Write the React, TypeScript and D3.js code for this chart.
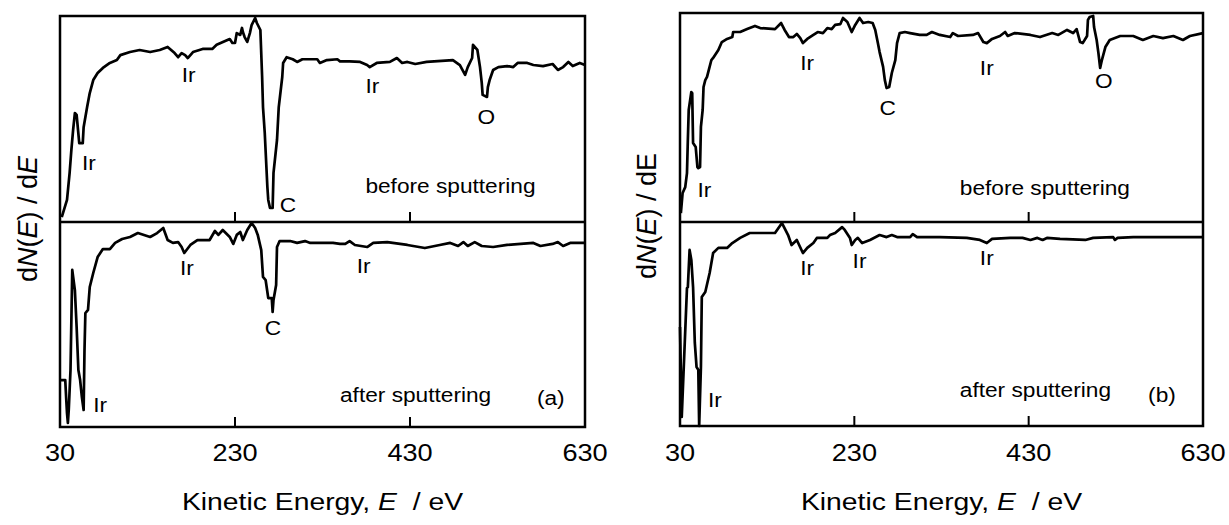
import React from "react";
import * as d3 from "d3";

// ---- axis ----
const energyTicks = [30, 230, 430, 630];
const energyDomain: [number, number] = [30, 630];

// ---- panel (a): [kinetic energy eV, dN/dE arb. units 0-100] ----
const aBefore: [number, number][] = [
  [32, 2.4], [38, 10.7], [41, 23.8], [43, 35], [45, 44.7], [47, 52.9], [49, 52], [52, 38.3], [56, 38.3],
  [57, 46], [61, 55.8], [64, 62.6], [68, 68.9], [73, 72.3], [79, 74.8], [87, 77.2], [95, 78.6], [99, 81],
  [110, 82.5], [121, 83.5], [133, 82.5], [144, 83.5], [153, 85], [161, 82], [165, 80], [169, 82], [173, 81],
  [176, 79.6], [182, 82.5], [193, 84], [204, 84], [209, 86], [224, 88.8], [227, 86.9], [230, 86.9],
  [232, 91.7], [236, 90.8], [238, 94.2], [239, 92.2], [241, 89.8], [244, 87.4], [247, 91.7], [249, 95.6],
  [253, 99], [255, 96.6], [259, 93.2], [261, 70.4], [262, 55.8], [264, 43.2], [267, 17], [268, 10.7],
  [270, 6.8], [273, 6.8], [274, 23.8], [278, 39.8], [280, 55.8], [284, 70.4], [285, 77.2], [289, 80],
  [296, 79], [301, 77.7], [307, 79], [324, 79], [327, 77.2], [335, 78.6], [347, 79], [350, 78], [361, 78],
  [373, 77.7], [381, 76.2], [384, 75.2], [392, 77.2], [407, 77.7], [415, 79.6], [421, 77.2], [427, 77.7],
  [436, 76.7], [449, 77.7], [479, 78.6], [487, 76.2], [493, 71.4], [496, 75.2], [501, 79.6], [502, 86],
  [507, 83.5], [510, 75.2], [512, 67.5], [513, 61.7], [518, 60.7], [519, 65.5], [521, 68.9], [525, 73.8],
  [531, 75.2], [541, 75.7], [548, 75.2], [553, 77.2], [564, 77.2], [571, 76.2], [582, 75.7], [593, 76.7],
  [599, 73.8], [605, 75.2], [611, 77.7], [616, 75.7], [624, 77.2], [630, 76.2],
];

const aAfter: [number, number][] = [
  [31, 22.9], [36, 22.9], [37, 14.6], [38, 6.8], [39, 2], [40, 8.3], [42, 27.8], [44, 76.6], [47, 66.8],
  [49, 48.8], [51, 27.8], [53, 22.9], [55, 14.6], [57, 8.3], [58, 37.6], [59, 55.6], [62, 57.1], [64, 68.3],
  [68, 75.1], [73, 82.9], [79, 86.8], [87, 86.8], [93, 89.8], [101, 91.7], [110, 92.7], [119, 94.6],
  [133, 92.7], [141, 94.6], [148, 97.1], [153, 91.2], [159, 89.8], [165, 90.2], [169, 87.8], [172, 84.9],
  [179, 88.8], [187, 91.2], [201, 91.2], [207, 95.6], [211, 93.7], [216, 96.1], [224, 92.7], [228, 89.3],
  [232, 93.7], [236, 95.1], [239, 91.2], [244, 96.1], [249, 99.5], [253, 97.1], [256, 93.7], [260, 86.3],
  [262, 73.2], [265, 71.7], [268, 62.9], [272, 62.9], [273, 56.1], [274, 62], [277, 69.3], [278, 87.8],
  [281, 90.7], [293, 90.7], [301, 89.8], [310, 90.7], [316, 89.8], [335, 89.8], [342, 89.8], [350, 89.3],
  [356, 89.3], [361, 90.7], [367, 88.8], [381, 87.8], [388, 89.8], [404, 90.2], [427, 88.8], [447, 87.3],
  [464, 88.8], [476, 89.8], [485, 88.3], [491, 90.2], [496, 88.3], [504, 90.2], [512, 88.3], [525, 87.8],
  [541, 88.8], [571, 89.8], [579, 88.3], [593, 89.3], [599, 90.2], [605, 88.3], [613, 89.8], [630, 89.8],
];

// ---- panel (b) ----
const bBefore: [number, number][] = [
  [31, 4.3], [33, 13.9], [36, 16.7], [38, 23.4], [39, 39.2], [40, 53.6], [43, 62.2], [44, 61.7], [45, 37.8],
  [48, 35.9], [50, 26.3], [51, 25.8], [53, 26.3], [54, 45.5], [56, 53.6], [57, 64.6], [59, 67.9], [61, 69.4],
  [63, 72.7], [66, 77.5], [68, 78.5], [74, 82.3], [78, 86.1], [84, 87.6], [90, 88.5], [91, 90.9], [99, 90.9],
  [107, 92.3], [116, 93.8], [122, 92.8], [139, 92.3], [146, 95.2], [150, 91.9], [155, 88.5], [160, 88.5],
  [164, 90], [168, 88], [171, 85.6], [176, 87.6], [183, 89.5], [188, 90.9], [194, 90.4], [199, 92.8],
  [204, 92.3], [208, 94.3], [214, 94.7], [217, 97.6], [222, 95.7], [227, 90.9], [231, 94.3], [236, 97.6],
  [240, 95.2], [246, 95.7], [251, 95.2], [254, 91.9], [257, 85.6], [259, 81.3], [263, 74.2], [265, 67.9],
  [267, 64.1], [270, 64.6], [273, 71.3], [277, 77.5], [279, 85.6], [282, 90.4], [288, 90.9], [294, 90.4],
  [305, 89.5], [313, 89.5], [319, 90.9], [328, 89.5], [340, 88.5], [343, 90.4], [349, 89], [366, 89.5],
  [372, 90.4], [378, 86.1], [382, 85.6], [388, 87.6], [397, 89], [403, 90.9], [406, 89], [414, 90.4],
  [432, 89.5], [443, 88.5], [457, 90.4], [464, 89.5], [474, 91.9], [481, 90.4], [485, 92.3], [489, 86.1],
  [492, 85.6], [497, 89], [498, 96.7], [500, 98.1], [504, 98.6], [505, 93.3], [508, 87.1], [510, 80.9],
  [512, 73.7], [514, 77.5], [518, 83.7], [523, 87.1], [535, 89], [550, 89], [561, 87.1], [573, 89],
  [584, 88], [596, 89], [607, 87.1], [615, 89], [630, 90.4],
];

const bAfter: [number, number][] = [
  [30, 48.5], [32, 4.4], [38, 67.6], [39, 68.1], [41, 86.3], [43, 81.4], [45, 68.1], [47, 40.7], [49, 28.9],
  [51, 27.5], [52, 0], [54, 28.9], [55, 63.2], [59, 65.7], [64, 75], [68, 84.8], [74, 87.3], [84, 87.3],
  [90, 89.7], [99, 92.2], [110, 94.6], [122, 94.6], [139, 94.6], [147, 99.5], [154, 93.6], [158, 88.7],
  [164, 91.2], [171, 84.8], [176, 87.3], [183, 89.7], [187, 92.2], [199, 92.2], [202, 93.6], [208, 94.6],
  [216, 97.5], [219, 96.1], [225, 92.2], [227, 88.7], [231, 91.2], [234, 92.2], [239, 89.7], [248, 91.2],
  [259, 93.6], [267, 92.6], [273, 93.6], [279, 92.6], [294, 92.6], [297, 94.1], [302, 92.6], [328, 92.6],
  [359, 92.2], [374, 91.2], [382, 89.7], [388, 91.7], [409, 92.2], [423, 92.2], [432, 91.2], [440, 92.2],
  [446, 91.2], [451, 92.2], [466, 91.7], [495, 91.2], [504, 92.2], [527, 92.6], [529, 91.2], [532, 92.2],
  [550, 92.6], [630, 92.6],
];

// ---- annotations: [label, energy, value] (left/baseline of text) ----
type Ann = [string, number, number];
const aBeforeLabels: Ann[] = [["Ir", 55, 25.2], ["Ir", 169, 68], ["C", 281, 4.9], ["Ir", 379, 62.6], ["O", 507, 47.6], ["before sputtering", 379, 14.1]];
const aAfterLabels: Ann[] = [["Ir", 68, 7.3], ["Ir", 167, 74.1], ["C", 264, 44.9], ["Ir", 369, 75.1], ["after sputtering", 350, 12.2], ["(a)", 575, 10.7]];
const bBeforeLabels: Ann[] = [["Ir", 50, 12], ["Ir", 168, 72.7], ["C", 259, 51.2], ["Ir", 374, 70.3], ["O", 506, 64.1], ["before sputtering", 351, 12.9]];
const bAfterLabels: Ann[] = [["Ir", 62, 9.3], ["Ir", 168, 74], ["Ir", 228, 77.5], ["Ir", 374, 78.9], ["after sputtering", 351, 14.2], ["(b)", 567, 11.8]];

const FONT = "'Liberation Sans', Arial, Helvetica, sans-serif";
const SX = 1.18;
const SX_IN = 1.08;

type PanelProps = {
  x0: number; x1: number; top: number; mid: number; bottom: number;
  before: [number, number][]; after: [number, number][];
  beforeLabels: Ann[]; afterLabels: Ann[];
  ylx: number; yly: number; lastItalic: boolean;
};

function Panel(p: PanelProps) {
  const x = d3.scaleLinear().domain(energyDomain).range([p.x0, p.x1]);
  const yTop = d3.scaleLinear().domain([0, 100]).range([p.mid, p.top]);
  const yBot = d3.scaleLinear().domain([0, 100]).range([p.bottom, p.mid]);
  const lineTop = d3.line<[number, number]>().x(d => x(d[0])).y(d => yTop(d[1]));
  const lineBot = d3.line<[number, number]>().x(d => x(d[0])).y(d => yBot(d[1]));
  const cx = (p.x0 + p.x1) / 2;
  const label = (a: Ann, y: d3.ScaleLinear<number, number>, i: number) => (
    <text key={i} transform={`translate(${x(a[1])},${y(a[2])}) scale(${SX_IN},1)`} fontSize={21} fontFamily={FONT}>{a[0]}</text>
  );
  return (
    <g>
      <path d={lineTop(p.before) || ""} fill="none" stroke="#000" strokeWidth={2.7} strokeLinejoin="round" />
      <path d={lineBot(p.after) || ""} fill="none" stroke="#000" strokeWidth={2.7} strokeLinejoin="round" />
      <rect x={p.x0} y={p.top} width={p.x1 - p.x0} height={p.bottom - p.top} fill="none" stroke="#000" strokeWidth={2.5} />
      <line x1={p.x0} x2={p.x1} y1={p.mid} y2={p.mid} stroke="#000" strokeWidth={2.5} />
      {energyTicks.slice(1, -1).map(t => (
        <g key={t}>
          <line x1={x(t)} x2={x(t)} y1={p.mid} y2={p.mid - 10} stroke="#000" strokeWidth={2} />
          <line x1={x(t)} x2={x(t)} y1={p.bottom} y2={p.bottom - 10} stroke="#000" strokeWidth={2} />
        </g>
      ))}
      {energyTicks.map(t => (
        <text key={t} transform={`translate(${x(t)},461) scale(${SX},1)`} textAnchor="middle" fontSize={23} fontFamily={FONT}>{t}</text>
      ))}
      <text transform={`translate(${cx},510) scale(${SX},1)`} textAnchor="middle" fontSize={24} fontFamily={FONT} style={{ whiteSpace: "pre" }}>
        Kinetic Energy, <tspan fontStyle="italic">E</tspan>  / eV
      </text>
      <text transform={`translate(${p.ylx},${p.yly}) rotate(-90)`} textAnchor="middle" fontSize={27} fontFamily={FONT}>
        d<tspan fontStyle="italic">N</tspan>(<tspan fontStyle="italic">E</tspan>) / d<tspan fontStyle={p.lastItalic ? "italic" : "normal"}>E</tspan>
      </text>
      {p.beforeLabels.map((a, i) => label(a, yTop, i))}
      {p.afterLabels.map((a, i) => label(a, yBot, i + 100))}
    </g>
  );
}

export default function App() {
  return (
    <svg width={1229} height={525} style={{ position: "absolute", left: 0, top: 0, background: "#fff" }}>
      <rect width={1229} height={525} fill="#fff" />
      <Panel x0={60} x1={585} top={16} mid={222} bottom={427} before={aBefore} after={aAfter}
        beforeLabels={aBeforeLabels} afterLabels={aAfterLabels} ylx={37} yly={219} lastItalic={true} />
      <Panel x0={680} x1={1203} top={13} mid={222} bottom={426} before={bBefore} after={bAfter}
        beforeLabels={bBeforeLabels} afterLabels={bAfterLabels} ylx={656} yly={216} lastItalic={false} />
    </svg>
  );
}
